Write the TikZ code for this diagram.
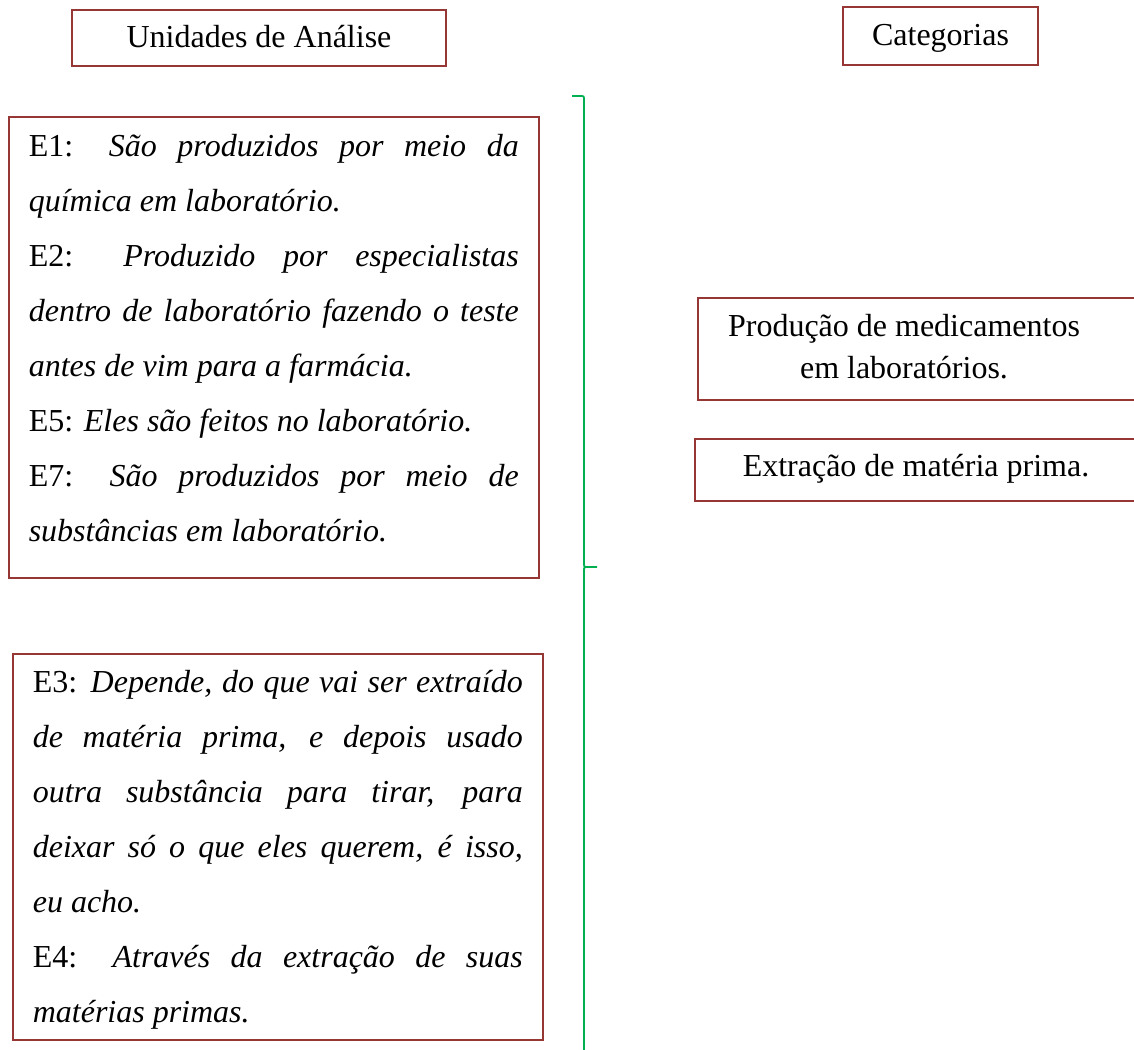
\documentclass[tikz,border=0pt]{standalone}
\usepackage{fontspec}
\setmainfont{Liberation Serif}
\definecolor{boxred}{RGB}{150,55,53}
\definecolor{bracegreen}{RGB}{0,176,80}
\hyphenpenalty=10000
\exhyphenpenalty=10000
\tolerance=9999
\begin{document}
\begin{tikzpicture}
[x=1pt,y=-1pt,
headbox/.style={draw=boxred,line width=1.6pt,font=\fontsize{32}{40}\selectfont,text height=24pt,text depth=4pt},
unitbox/.style={draw=boxred,line width=1.6pt,anchor=north west,text width=490pt,inner xsep=20pt,inner ysep=10pt,align=justify,font=\fontsize{32}{55}\selectfont},
catbox/.style={draw=boxred,line width=1.6pt,anchor=north west},
cattext/.style={align=center,font=\fontsize{32}{42}\selectfont},
brace/.style={draw=bracegreen,line width=1.8pt}]
\useasboundingbox (0,0) rectangle (1134,1049);
\clip (0,0) rectangle (1134,1049);
\node[headbox,minimum width=374pt,minimum height=56pt] (unid) at (259,38) {Unidades de Análise};
\node[headbox,minimum width=195pt,minimum height=58pt] (cat) at (940.5,36) {Categorias};
\node[unitbox,text height=30pt,text depth=411pt] (e1) at (8,116) {E1: \textit{São produzidos por meio da\linebreak química em laboratório.}\par
E2: \textit{Produzido por especialistas\linebreak dentro de laboratório fazendo o teste\linebreak antes de vim para a farmácia.}\par
E5: \textit{Eles são feitos no laboratório.}\par
E7: \textit{São produzidos por meio de\linebreak substâncias em laboratório.}};
\node[unitbox,text height=29pt,text depth=337pt] (e3) at (12,653) {E3: \textit{Depende, do que vai ser extraído\linebreak de matéria prima, e depois usado\linebreak outra substância para tirar, para\linebreak deixar só o que eles querem, é isso,\linebreak eu acho.}\par
E4: \textit{Através da extração de suas\linebreak matérias primas.}};
\node[catbox,minimum width=448pt,minimum height=102pt] (prodbox) at (697,297) {};
\node[cattext] (prod) at (904,347) {Produção de medicamentos\\em laboratórios.};
\node[catbox,minimum width=450pt,minimum height=62pt] (extrbox) at (694,438) {};
\node[cattext] (extr) at (916,469) {Extração de matéria prima.};
\coordinate (bracetop) at (572,96);
\coordinate (bracetip) at (597,567);
\coordinate (bracebot) at (584,1060);
\draw[brace] (bracetop) -- (580,96) .. controls (584,96) .. (584,100) -- (584,563) .. controls (584,567) .. (588,567) -- (bracetip);
\draw[brace] (588,567) .. controls (584,567) .. (584,571) -- (bracebot);
\end{tikzpicture}
\end{document}
